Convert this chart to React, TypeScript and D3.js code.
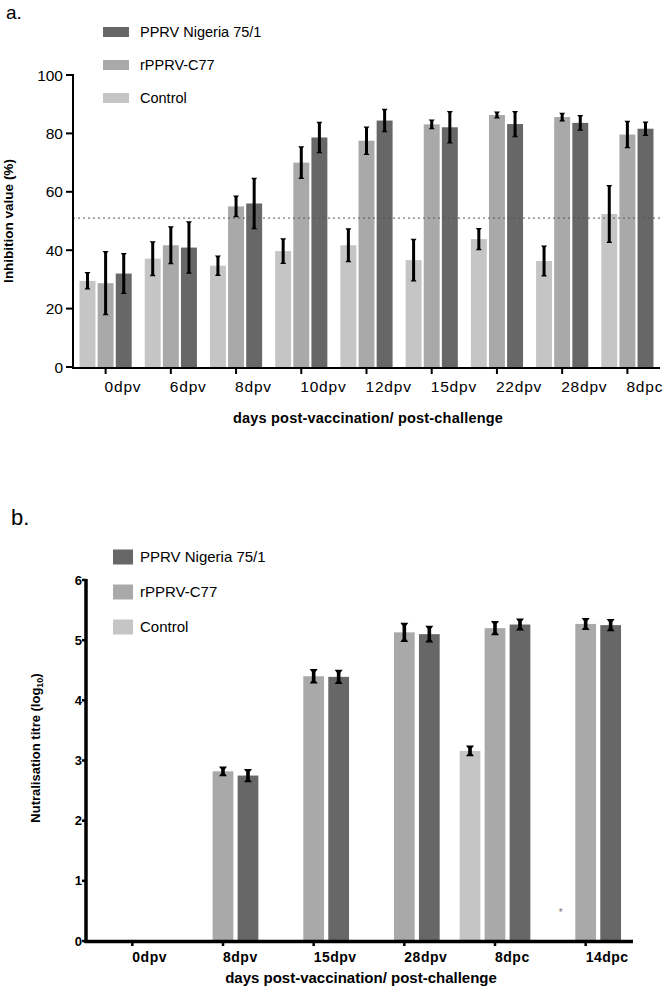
import React from "react";
import * as d3 from "d3";

// ---------- Panel a data ----------
const catsA = ["0dpv", "6dpv", "8dpv", "10dpv", "12dpv", "15dpv", "22dpv", "28dpv", "8dpc"];
const controlA = [29.5, 37.1, 34.7, 39.7, 41.7, 36.6, 43.8, 36.3, 52.4];
const controlAErr = [3, 6, 3.5, 4.4, 5.8, 7.3, 3.8, 5.3, 9.9];
const c77A = [28.7, 41.7, 55.0, 70.0, 77.5, 83.1, 86.3, 85.6, 79.6];
const c77AErr = [11, 6.5, 3.7, 5.6, 4.9, 1.7, 1.2, 1.5, 4.7];
const nigA = [32, 40.9, 56.0, 78.6, 84.4, 82.1, 83.2, 83.6, 81.6];
const nigAErr = [7, 9, 8.8, 5.4, 4, 5.6, 4.5, 2.7, 2.5];
const thresholdA = 51;
const ticksA = [0, 20, 40, 60, 80, 100];

// ---------- Panel b data ----------
const catsB = ["0dpv", "8dpv", "15dpv", "28dpv", "8dpc", "14dpc"];
const controlB = [0, 0, 0, 0, 3.16, 0];
const controlBErr = [0, 0, 0, 0, 0.09, 0];
const c77B = [0, 2.82, 4.4, 5.13, 5.2, 5.27];
const c77BErr = [0, 0.08, 0.12, 0.16, 0.12, 0.1];
const nigB = [0, 2.75, 4.39, 5.1, 5.26, 5.25];
const nigBErr = [0, 0.11, 0.12, 0.14, 0.1, 0.1];
const starB = ["", "", "", "", "", "*"];
const ticksB = [0, 1, 2, 3, 4, 5, 6];

const seriesKeys = ["Control", "rPPRV-C77", "PPRV Nigeria 75/1"];
const legendOrder = ["PPRV Nigeria 75/1", "rPPRV-C77", "Control"];
const colors: Record<string, string> = {
  Control: "#c5c5c5",
  "rPPRV-C77": "#a9a9a9",
  "PPRV Nigeria 75/1": "#676767",
};

const FONT = "'Liberation Sans', Arial, Helvetica, sans-serif";

function hourglass(x: number, yTop: number, yBot: number, capHalf: number, stemHalf: number, capH: number) {
  const p = d3.path();
  p.moveTo(x - capHalf, yTop);
  p.lineTo(x + capHalf, yTop);
  p.lineTo(x + stemHalf, yTop + capH);
  p.lineTo(x + stemHalf, yBot - capH);
  p.lineTo(x + capHalf, yBot);
  p.lineTo(x - capHalf, yBot);
  p.lineTo(x - stemHalf, yBot - capH);
  p.lineTo(x - stemHalf, yTop + capH);
  p.closePath();
  return p.toString();
}

function PanelA() {
  const x0 = d3.scaleBand<string>().domain(catsA).range([73, 660]).paddingInner(0.2).paddingOuter(0.1);
  const x1 = d3.scaleBand<string>().domain(seriesKeys).range([0, x0.bandwidth()]).paddingInner(0.12);
  const y = d3.scaleLinear().domain([0, 100]).range([367, 75]);
  const vals: Record<string, number[]> = { Control: controlA, "rPPRV-C77": c77A, "PPRV Nigeria 75/1": nigA };
  const errs: Record<string, number[]> = { Control: controlAErr, "rPPRV-C77": c77AErr, "PPRV Nigeria 75/1": nigAErr };
  const legY = d3.scalePoint<string>().domain(legendOrder).range([32, 98]);
  return (
    <g>
      <text x={6} y={19} fontFamily={FONT} fontSize={19}>a.</text>
      {catsA.map((c, i) => (
        <g key={c}>
          {seriesKeys.map((s) => {
            const bx = (x0(c) as number) + (x1(s) as number);
            const v = vals[s][i];
            return (
              <rect key={s} x={bx} y={y(v)} width={x1.bandwidth()} height={y(0) - y(v)} fill={colors[s]} />
            );
          })}
        </g>
      ))}
      <line x1={73} x2={660} y1={y(thresholdA)} y2={y(thresholdA)} stroke="#555" strokeWidth={1} strokeDasharray="2,3" />
      {catsA.map((c, i) =>
        seriesKeys.map((s) => {
          const cx = (x0(c) as number) + (x1(s) as number) + x1.bandwidth() / 2;
          const v = vals[s][i];
          const e = errs[s][i];
          return <path key={c + s} d={hourglass(cx, y(v + e), y(v - e), 3, 1.5, 2)} fill="#000" />;
        })
      )}
      <line x1={73} x2={73} y1={74} y2={368} stroke="#000" strokeWidth={2} />
      <line x1={72} x2={660} y1={368} y2={368} stroke="#000" strokeWidth={2} />
      {ticksA.map((t) => (
        <g key={t}>
          <line x1={66} x2={73} y1={y(t)} y2={y(t)} stroke="#000" strokeWidth={2} />
          <text x={63} y={y(t) + 5.5} textAnchor="end" fontFamily={FONT} fontSize={15.5}>{t}</text>
        </g>
      ))}
      {catsA.map((c) => {
        const cx = (x0(c) as number) + x0.bandwidth() / 2;
        return (
          <g key={c}>
            <line x1={cx} x2={cx} y1={368} y2={374} stroke="#000" strokeWidth={2} />
            <text x={cx - 1} y={392} fontFamily={FONT} fontSize={15.5} letterSpacing={0.8}>{c}</text>
          </g>
        );
      })}
      <text x={368} y={423} textAnchor="middle" fontFamily={FONT} fontWeight="bold" fontSize={14.5} letterSpacing={0.2}>
        days post-vaccination/ post-challenge
      </text>
      <text transform={`translate(13,221) rotate(-90)`} textAnchor="middle" fontFamily={FONT} fontWeight="bold" fontSize={13.5}>
        Inhibition value (%)
      </text>
      {legendOrder.map((s) => (
        <g key={s}>
          <rect x={103} y={(legY(s) as number) - 5} width={26} height={10} fill={colors[s]} />
          <text x={140} y={(legY(s) as number) + 5} fontFamily={FONT} fontSize={14.5}>{s}</text>
        </g>
      ))}
    </g>
  );
}

function PanelB() {
  const x0 = d3.scaleBand<string>().domain(catsB).range([87, 631]).paddingInner(0.22).paddingOuter(0.11);
  const x1 = d3.scaleBand<string>().domain(seriesKeys).range([0, x0.bandwidth()]).paddingInner(0.17);
  const y = d3.scaleLinear().domain([0, 6]).range([941, 580]);
  const vals: Record<string, number[]> = { Control: controlB, "rPPRV-C77": c77B, "PPRV Nigeria 75/1": nigB };
  const errs: Record<string, number[]> = { Control: controlBErr, "rPPRV-C77": c77BErr, "PPRV Nigeria 75/1": nigBErr };
  const legY = d3.scalePoint<string>().domain(legendOrder).range([557, 627]);
  return (
    <g>
      <text x={11} y={525} fontFamily={FONT} fontSize={22}>b.</text>
      {catsB.map((c, i) => (
        <g key={c}>
          {seriesKeys.map((s) => {
            const v = vals[s][i];
            if (v <= 0) return null;
            const bx = (x0(c) as number) + (x1(s) as number);
            return <rect key={s} x={bx} y={y(v)} width={x1.bandwidth()} height={y(0) - y(v)} fill={colors[s]} />;
          })}
          {starB[i] ? (
            <text
              x={(x0(c) as number) + (x1("Control") as number) + x1.bandwidth() / 2}
              y={916}
              textAnchor="middle"
              fontFamily={FONT}
              fontSize={10}
              fill="#777"
            >
              {starB[i]}
            </text>
          ) : null}
        </g>
      ))}
      {catsB.map((c, i) =>
        seriesKeys.map((s) => {
          const e = errs[s][i];
          if (e <= 0) return null;
          const v = vals[s][i];
          const cx = (x0(c) as number) + (x1(s) as number) + x1.bandwidth() / 2;
          return <path key={c + s} d={hourglass(cx, y(v + e), y(v - e), 4, 1.8, 3)} fill="#000" />;
        })
      )}
      <line x1={86} x2={86} y1={579} y2={943} stroke="#000" strokeWidth={3.5} />
      <line x1={84.5} x2={633} y1={941.5} y2={941.5} stroke="#000" strokeWidth={3.5} />
      {ticksB.map((t) => (
        <g key={t}>
          <line x1={82} x2={86} y1={y(t)} y2={y(t)} stroke="#000" strokeWidth={2.5} />
          <text x={82} y={y(t) + 4.5} textAnchor="end" fontFamily={FONT} fontWeight="bold" fontSize={13}>{t}</text>
        </g>
      ))}
      {catsB.map((c) => {
        const cx = (x0(c) as number) + x0.bandwidth() / 2;
        return (
          <g key={c}>
            <line x1={cx} x2={cx} y1={942} y2={946} stroke="#000" strokeWidth={2.5} />
            <text x={cx} y={962} fontFamily={FONT} fontWeight="bold" fontSize={14} letterSpacing={0.5}>{c}</text>
          </g>
        );
      })}
      <text x={361} y={983} textAnchor="middle" fontFamily={FONT} fontWeight="bold" fontSize={15}>
        days post-vaccination/ post-challenge
      </text>
      <text transform={`translate(40,748) rotate(-90)`} textAnchor="middle" fontFamily={FONT} fontWeight="bold" fontSize={13}>
        Nutralisation titre (log
        <tspan fontSize={9} dy={3}>10</tspan>
        <tspan dy={-3}>)</tspan>
      </text>
      {legendOrder.map((s) => (
        <g key={s}>
          <rect x={113} y={(legY(s) as number) - 7.5} width={20} height={15} fill={colors[s]} />
          <text x={140} y={(legY(s) as number) + 5} fontFamily={FONT} fontSize={15}>{s}</text>
        </g>
      ))}
    </g>
  );
}

export default function App() {
  return (
    <svg
      width={666}
      height={989}
      viewBox="0 0 666 989"
      style={{ position: "absolute", left: 0, top: 0, background: "#fff" }}
    >
      <rect x={0} y={0} width={666} height={989} fill="#fff" />
      <PanelA />
      <PanelB />
    </svg>
  );
}
